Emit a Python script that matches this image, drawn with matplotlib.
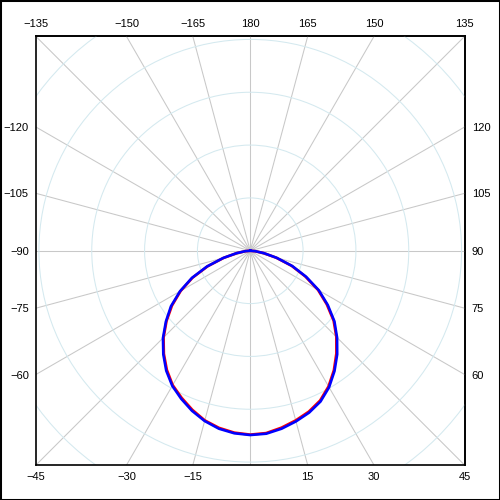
import numpy as np
import matplotlib
matplotlib.use("Agg")
from matplotlib import pyplot as plt
from matplotlib.patches import Circle, Rectangle

#------------------------------------------------------------------------------
# Pattern data (angle in degrees, 0 at bottom, counterclockwise)
#------------------------------------------------------------------------------
angles = [-90, -85, -80, -75, -70, -65, -60, -55, -50, -45, -40, -35, -30,
          -25, -20, -15, -10, -5, 0, 5, 10, 15, 20, 25, 30, 35, 40, 45, 50,
          55, 60, 65, 70, 75, 80, 85, 90]

r_blue = [0.0, 0.024, 0.066, 0.133, 0.218, 0.305, 0.384, 0.458, 0.521,
          0.584, 0.640, 0.693, 0.738, 0.773, 0.806, 0.834, 0.855, 0.867,
          0.872, 0.869, 0.855, 0.836, 0.815, 0.787, 0.746, 0.695, 0.640,
          0.581, 0.520, 0.448, 0.375, 0.292, 0.212, 0.130, 0.066, 0.024, 0.0]

r_red = [0.0, 0.023, 0.064, 0.130, 0.214, 0.301, 0.380, 0.452, 0.517,
         0.580, 0.636, 0.688, 0.734, 0.768, 0.801, 0.831, 0.851, 0.864,
         0.870, 0.866, 0.850, 0.831, 0.810, 0.782, 0.741, 0.690, 0.634,
         0.576, 0.515, 0.442, 0.370, 0.287, 0.208, 0.127, 0.064, 0.023, 0.0]

ring_radii = [0.25, 0.5, 0.75, 1.0, 1.25]
spoke_angles = list(range(0, 360, 15))

top_ticks = [-135, -150, -165, 180, 165, 150, 135]
bottom_ticks = [-45, -30, -15, 15, 30, 45]
left_ticks = [-120, -105, -90, -75, -60]
right_ticks = [120, 105, 90, 75, 60]

L = 1.015

plt.rcParams['font.family'] = ['Liberation Sans', 'DejaVu Sans']


def to_xy(a_deg, r):
  a = np.radians(np.asarray(a_deg, dtype=float))
  r = np.asarray(r, dtype=float)
  return r * np.sin(a), -r * np.cos(a)


def lab(v):
  return str(v).replace("-", "\u2212")


fig = plt.figure(figsize=(5, 5), dpi=100)
ax = fig.add_axes([0.0715, 0.0695, 0.858, 0.858])
ax.set_xlim(-L, L)
ax.set_ylim(-L, L)

# grid
for a in spoke_angles:
  x, y = to_xy([a, a], [0, 3 * L])
  ax.plot(x, y, color="#c8c8c8", lw=0.75, zorder=1)
for rr in ring_radii:
  ax.add_patch(Circle((0, 0), rr, fill=False, edgecolor="#d4e9ef", lw=0.75, zorder=1))

# curves
x, y = to_xy(angles, r_red)
ax.plot(x, y, color="red", lw=1.9, zorder=3)
x, y = to_xy(angles, r_blue)
ax.plot(x, y, color="blue", lw=1.9, zorder=4)

# angle labels where spokes meet the frame
bt = np.radians(bottom_ticks)
ax.set_xticks(L * np.tan(bt), [lab(v) for v in bottom_ticks])
lt = np.radians(left_ticks)
ax.set_yticks(L * np.cos(lt) / np.sin(lt), [lab(v) for v in left_ticks])

top = ax.secondary_xaxis("top")
tt = np.radians(top_ticks)
top.set_xticks(-L * np.sin(tt) / np.cos(tt), [lab(v) for v in top_ticks])
right = ax.secondary_yaxis("right")
rt = np.radians(right_ticks)
right.set_yticks(-L * np.cos(rt) / np.sin(rt), [lab(v) for v in right_ticks])

for axis in (ax, top, right):
  axis.tick_params(length=0, pad=5, labelsize=8)
  for s in axis.spines.values():
    s.set_linewidth(1.2)

fig.patches.append(Rectangle((0, 0), 1, 1, transform=fig.transFigure,
                             fill=False, edgecolor="black", lw=2.2))

fig.savefig("out.png", dpi=100)
